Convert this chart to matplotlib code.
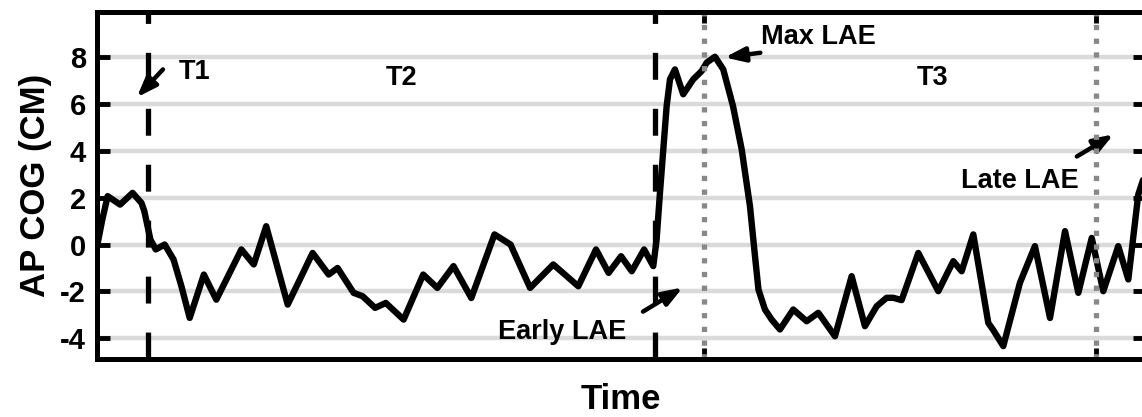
import numpy as np
import matplotlib
matplotlib.use('Agg')
import matplotlib.pyplot as plt

plt.rcParams['font.family'] = ['Liberation Sans', 'DejaVu Sans']
plt.rcParams['font.weight'] = 'bold'
plt.rcParams['axes.unicode_minus'] = False

# AP centre of gravity trace (time in arbitrary units, cm)
time = [0.000, 0.051, 0.102, 0.221, 0.340, 0.425, 0.452, 0.510, 0.561, 0.646,
        0.731, 0.806, 0.885, 1.020, 1.139, 1.378, 1.496, 1.615, 1.820, 2.058,
        2.211, 2.296, 2.449, 2.534, 2.654, 2.756, 2.926, 3.113, 3.248, 3.402,
        3.572, 3.793, 3.946, 4.133, 4.354, 4.593, 4.762, 4.882, 5.001, 5.103,
        5.221, 5.308, 5.340, 5.372, 5.404, 5.436, 5.468, 5.515, 5.594, 5.690,
        5.770, 5.818, 5.897, 5.976, 6.069, 6.152, 6.231, 6.279, 6.312, 6.374,
        6.438, 6.517, 6.644, 6.772, 6.883, 7.042, 7.201, 7.328, 7.440, 7.535,
        7.598, 7.678, 7.837, 8.028, 8.171, 8.251, 8.362, 8.505, 8.550, 8.648,
        8.807, 8.950, 9.094, 9.237, 9.364, 9.492, 9.602, 9.745, 9.841, 9.936,
        10.0]
cog = [-0.1, 1.06, 2.06, 1.7, 2.2, 1.77, 1.42, 0.21, -0.21, 0.0,
       -0.64, -1.78, -3.13, -1.28, -2.35, -0.21, -0.85, 0.78, -2.56, -0.36,
       -1.28, -1.0, -2.06, -2.2, -2.7, -2.49, -3.2, -1.28, -1.85, -0.92,
       -2.28, 0.43, 0.0, -1.85, -0.85, -1.78, -0.21, -1.21, -0.5, -1.14,
       -0.21, -0.92, 0.2, 2.2, 4.05, 5.9, 7.04, 7.46, 6.4, 7.04,
       7.39, 7.75, 8.0, 7.46, 5.9, 4.05, 1.63, -0.5, -1.92, -2.77,
       -3.2, -3.62, -2.77, -3.27, -2.91, -3.91, -1.35, -3.48, -2.63, -2.27,
       -2.27, -2.37, -0.36, -1.99, -0.71, -1.14, 0.43, -3.34, -3.63, -4.33,
       -1.63, -0.07, -3.13, 0.57, -2.06, 0.28, -1.99, -0.07, -1.49, 2.13,
       3.0]

phase_bounds = [0.487, 5.324]   # T1/T2 and T2/T3 (dashed)
lae_marks = [5.792, 9.532]      # max LAE and late LAE (dotted)
yticks = [-4, -2, 0, 2, 4, 6, 8]

fig = plt.figure(figsize=(11.42, 4.17), dpi=100)
ax = fig.add_axes([0.0849, 0.139, 0.9177, 0.833])

for y in yticks:
    ax.axhline(y, color='#dadada', lw=3.2, zorder=1)

ax.plot(time, cog, color='k', lw=4.6, solid_joinstyle='round',
        solid_capstyle='round', zorder=3)

for xv in phase_bounds:
    ax.axvline(xv, color='k', lw=3.8, ls=(0, (5.1, 5.5)), zorder=4)
for xv in lae_marks:
    ax.axvline(xv, color='#888888', lw=3.8, ls=(0, (1.0, 1.6)),
               dash_capstyle='butt', zorder=4)

ax.set_xlim(0, 10)
ax.set_ylim(-4.88, 9.92)
ax.set_yticks(yticks)
ax.set_yticklabels([str(v) for v in yticks], fontsize=21, fontweight='bold')
ax.set_xticks(phase_bounds + lae_marks)
ax.set_xticklabels([])
ax.tick_params(axis='both', direction='in', length=8, width=3.5,
               top=True, right=True, pad=8)
ax.tick_params(axis='y', length=9)
for sp in ax.spines.values():
    sp.set_linewidth(3.6)
    sp.set_zorder(5)

ax.set_xlabel('Time', fontsize=25, fontweight='bold', labelpad=9)
ax.set_ylabel('AP COG (CM)', fontsize=25, fontweight='bold', labelpad=6)

arrow = dict(arrowstyle='-|>,head_length=0.6,head_width=0.22', lw=3.2,
             color='k', shrinkA=0, shrinkB=0, mutation_scale=20)
txt = dict(fontsize=19.5, fontweight='bold', ha='center', va='center')

ax.annotate('', xy=(0.38, 6.27), xytext=(0.63, 7.46), arrowprops=arrow)
ax.text(0.935, 7.33, 'T1', **txt)
ax.text(2.91, 7.1, 'T2', **txt)
ax.text(7.97, 7.1, 'T3', **txt)
ax.annotate('', xy=(5.99, 7.97), xytext=(6.33, 8.17), arrowprops=arrow)
ax.text(6.88, 8.85, 'Max LAE', **txt)
ax.annotate('', xy=(5.59, -1.83), xytext=(5.21, -2.86), arrowprops=arrow)
ax.text(4.44, -3.71, 'Early LAE', **txt)
ax.annotate('', xy=(9.70, 4.69), xytext=(9.35, 3.75), arrowprops=arrow)
ax.text(8.81, 2.69, 'Late LAE', **txt)

fig.savefig('out.png', dpi=100)
